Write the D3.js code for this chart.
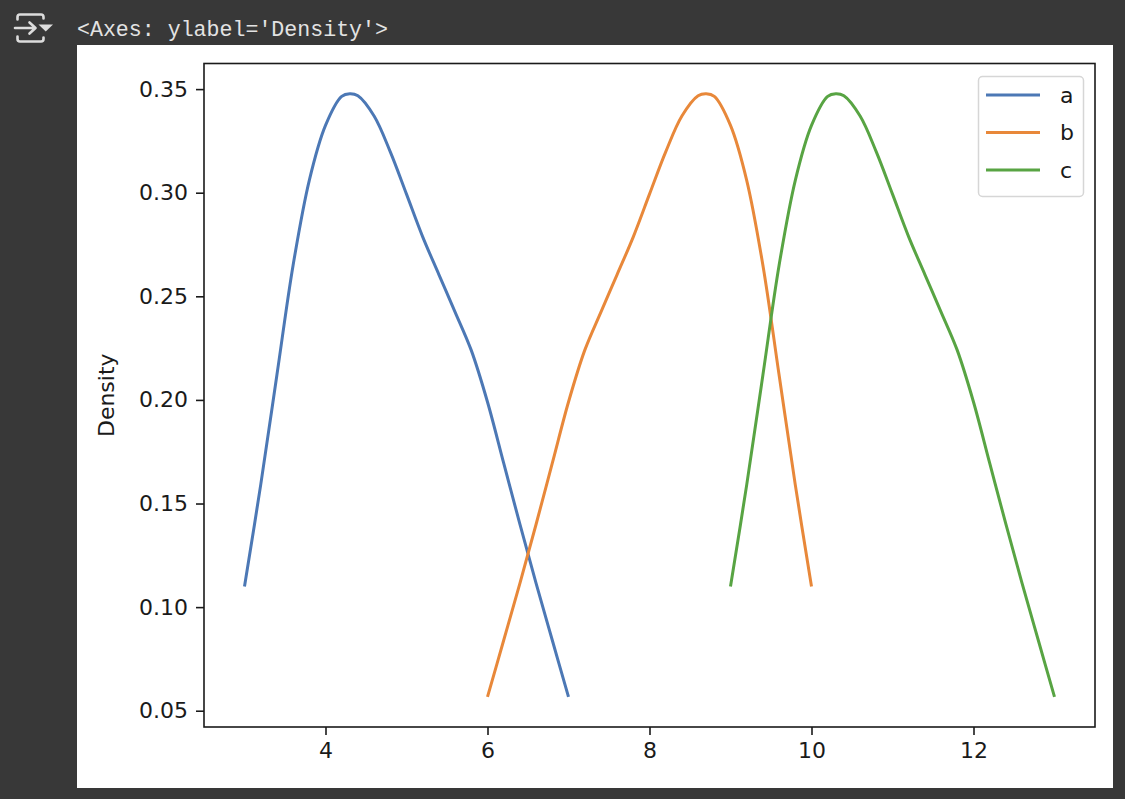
<!DOCTYPE html>
<html><head><meta charset="utf-8">
<script src="https://cdn.jsdelivr.net/npm/d3@7"></script>
<style>
html,body{margin:0;padding:0;background:#383838;}
svg{display:block;}
</style></head>
<body>
<svg id="chart" width="1125" height="799"></svg>
<script>
// ---- data ----
const seriesNames = ["a", "b", "c"];
const seriesColors = ["#4c78b5", "#e8883a", "#58a443"];
const aX = [3.0,3.2,3.4,3.6,3.8,4.0,4.2,4.3,4.4,4.6,4.8,5.0,5.2,5.4,5.6,5.8,6.0,6.2,6.4,6.6,6.8,7.0];
const aY = [0.110,0.159,0.212,0.265,0.306,0.3325,0.3465,0.3478,0.3468,0.337,0.3197,0.2993,0.2787,0.2605,0.2424,0.2239,0.199,0.1695,0.140,0.1115,0.084,0.0567];
const bX = [6.0,6.2,6.4,6.6,6.8,7.0,7.2,7.4,7.6,7.8,8.0,8.2,8.4,8.6,8.7,8.8,9.0,9.2,9.4,9.6,9.8,10.0];
const bY = [0.0567,0.084,0.1115,0.140,0.1695,0.199,0.2239,0.2424,0.2605,0.2787,0.2993,0.3197,0.337,0.3468,0.3478,0.3465,0.3325,0.306,0.265,0.212,0.159,0.110];
const cX = [9.0,9.2,9.4,9.6,9.8,10.0,10.2,10.3,10.4,10.6,10.8,11.0,11.2,11.4,11.6,11.8,12.0,12.2,12.4,12.6,12.8,13.0];
const cY = [0.110,0.159,0.212,0.265,0.306,0.3325,0.3465,0.3478,0.3468,0.337,0.3197,0.2993,0.2787,0.2605,0.2424,0.2239,0.199,0.1695,0.140,0.1115,0.084,0.0567];
const xTicks = [4, 6, 8, 10, 12];
const yTicks = [0.05, 0.10, 0.15, 0.20, 0.25, 0.30, 0.35];
const headerText = "<Axes: ylabel='Density'>";
const yLabel = "Density";

const series = [
  {name: seriesNames[0], color: seriesColors[0], pts: aX.map((x, i) => [x, aY[i]])},
  {name: seriesNames[1], color: seriesColors[1], pts: bX.map((x, i) => [x, bY[i]])},
  {name: seriesNames[2], color: seriesColors[2], pts: cX.map((x, i) => [x, cY[i]])}
];

const svg = d3.select("#chart");
const FONT = "'DejaVu Sans', sans-serif";
const FS = 22;

// ---- notebook output header ----
const icon = svg.append("g").attr("fill", "none").attr("stroke", "#dcdcdc")
  .attr("stroke-width", 2.6).attr("stroke-linecap", "round").attr("stroke-linejoin", "round");
icon.append("path").attr("d", "M17.5,19.5 V17 Q17.5,14.5 20,14.5 H41 Q43.5,14.5 43.5,17 V18.5");
icon.append("path").attr("d", "M17.5,36.5 V39 Q17.5,41.5 20,41.5 H41 Q43.5,41.5 43.5,39 V37.5");
icon.append("path").attr("d", "M15,28 H35 M29.5,22.5 L35.5,28 L29.5,33.5");
svg.append("path").attr("d", "M38.5,24.5 L53,24.5 L45.75,31.5 Z").attr("fill", "#dcdcdc");

svg.append("text").attr("x", 77).attr("y", 36)
  .attr("font-family", "'Liberation Mono', 'DejaVu Sans Mono', monospace")
  .attr("font-size", 22).attr("fill", "#e3e3e3")
  .attr("textLength", 311).attr("lengthAdjust", "spacingAndGlyphs")
  .text(headerText);

// ---- figure panel ----
svg.append("rect").attr("x", 77).attr("y", 45).attr("width", 1036).attr("height", 743).attr("fill", "#ffffff");

const plot = {left: 204, right: 1095, top: 63.5, bottom: 727};
const allX = aX.concat(bX, cX), allY = aY.concat(bY, cY);
const xMin = d3.min(allX), xMax = d3.max(allX), yMin = d3.min(allY), yMax = d3.max(allY);
const xPad = (xMax - xMin) * 0.05, yPad = (yMax - yMin) * 0.05;

const x = d3.scaleLinear().domain([xMin - xPad, xMax + xPad]).range([plot.left, plot.right]);
const y = d3.scaleLinear().domain([yMin - yPad, yMax + yPad]).range([plot.bottom, plot.top]);

// clip
svg.append("clipPath").attr("id", "clip").append("rect")
  .attr("x", plot.left).attr("y", plot.top)
  .attr("width", plot.right - plot.left).attr("height", plot.bottom - plot.top);

// lines
const line = d3.line().x(d => x(d[0])).y(d => y(d[1])).curve(d3.curveCatmullRom.alpha(0.5));
svg.append("g").attr("clip-path", "url(#clip)")
  .selectAll("path").data(series).join("path")
  .attr("d", d => line(d.pts))
  .attr("fill", "none").attr("stroke", d => d.color)
  .attr("stroke-width", 3).attr("stroke-linejoin", "round").attr("stroke-linecap", "butt");

// axes
const xAxis = d3.axisBottom(x).tickValues(xTicks).tickSize(8).tickPadding(7).tickFormat(d3.format("d"));
const yAxis = d3.axisLeft(y).tickValues(yTicks).tickSize(8).tickPadding(8).tickFormat(d3.format(".2f"));

const gx = svg.append("g").attr("transform", `translate(0,${plot.bottom})`).call(xAxis);
const gy = svg.append("g").attr("transform", `translate(${plot.left},0)`).call(yAxis);
[gx, gy].forEach(g => {
  g.select(".domain").remove();
  g.selectAll(".tick line").attr("stroke", "#1a1a1a").attr("stroke-width", 1.6);
  g.selectAll(".tick text").attr("fill", "#1a1a1a").attr("font-family", FONT).attr("font-size", FS);
});

// frame
svg.append("rect").attr("x", plot.left).attr("y", plot.top)
  .attr("width", plot.right - plot.left).attr("height", plot.bottom - plot.top)
  .attr("fill", "none").attr("stroke", "#1a1a1a").attr("stroke-width", 1.6);

// y label
svg.append("text")
  .attr("transform", `translate(114,${(plot.top + plot.bottom) / 2}) rotate(-90)`)
  .attr("text-anchor", "middle")
  .attr("font-family", FONT).attr("font-size", FS).attr("fill", "#1a1a1a")
  .text(yLabel);

// legend
const lg = svg.append("g");
lg.append("rect").attr("x", 978.5).attr("y", 76.5).attr("width", 105).attr("height", 120)
  .attr("rx", 4).attr("fill", "#ffffff").attr("fill-opacity", 0.8)
  .attr("stroke", "#d6d6d6").attr("stroke-width", 1.5);
const rows = lg.selectAll("g.row").data(series).join("g").attr("class", "row")
  .attr("transform", (d, i) => `translate(0,${95 + i * 37.5})`);
rows.append("line").attr("x1", 986).attr("x2", 1040).attr("y1", 0).attr("y2", 0)
  .attr("stroke", d => d.color).attr("stroke-width", 3);
rows.append("text").attr("x", 1060).attr("y", 0).attr("dy", "0.35em")
  .attr("font-family", FONT).attr("font-size", FS).attr("fill", "#1a1a1a")
  .text(d => d.name);
</script>
</body></html>
